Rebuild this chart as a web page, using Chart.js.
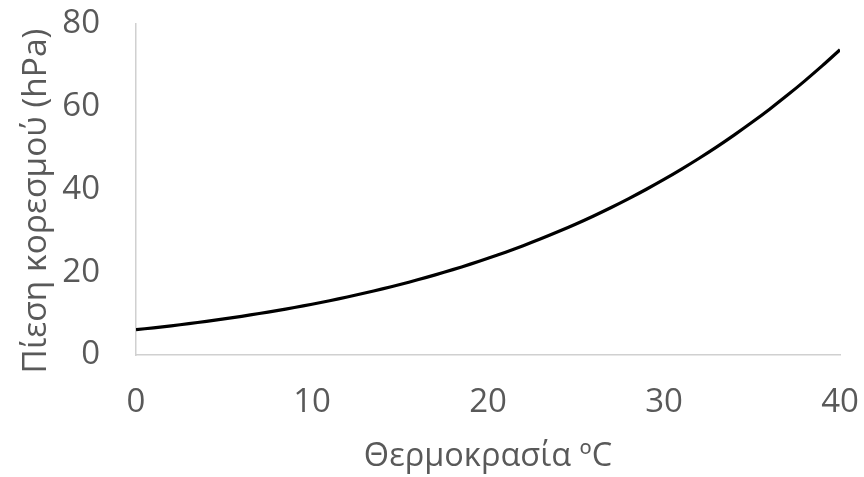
<!DOCTYPE html>
<html><head><meta charset="utf-8">
<script src="https://cdn.jsdelivr.net/npm/chart.js@4.4.1/dist/chart.umd.min.js"></script>
<style>html,body{margin:0;padding:0;background:#fff;}#c{display:block;}</style>
</head><body>
<canvas id="c" width="864" height="477"></canvas>
<script>
const temperatures = [0,1,2,3,4,5,6,7,8,9,10,11,12,13,14,15,16,17,18,19,20,21,22,23,24,25,26,27,28,29,30,31,32,33,34,35,36,37,38,39,40];
const pressures = [6.11,6.57,7.06,7.58,8.13,8.72,9.35,10.02,10.72,11.48,12.27,13.12,14.02,14.97,15.98,17.04,18.17,19.37,20.63,21.96,23.37,24.86,26.43,28.08,29.83,31.67,33.61,35.65,37.80,40.06,42.43,44.93,47.55,50.30,53.20,56.24,59.42,62.76,66.26,69.93,73.78];
const xTitle = 'Θερμοκρασία ºC';
const yTitle = 'Πίεση κορεσμού (hPa)';
const xRange = [0, 40, 10];
const yRange = [0, 80, 20];

const points = temperatures.map((t, i) => ({x: t, y: pressures[i]}));
const tickColor = '#595959';
const fontFam = "'Open Sans', sans-serif";

new Chart(document.getElementById('c'), {
  type: 'scatter',
  data: { datasets: [{
    data: points, showLine: true, borderColor: '#000', borderWidth: 3.2,
    pointRadius: 0, tension: 0.3, fill: false
  }]},
  options: {
    responsive: false, animation: false,
    layout: { padding: { top: 24, right: 24, left: 0, bottom: 0 } },
    plugins: { legend: { display: false }, tooltip: { enabled: false } },
    scales: {
      x: {
        type: 'linear', min: xRange[0], max: xRange[1],
        grid: { display: false, drawTicks: false },
        border: { display: true, color: '#d0d0d0', width: 1.5 },
        ticks: { stepSize: xRange[2], color: tickColor, font: { family: fontFam, size: 33 }, padding: 28, maxRotation: 0 },
        title: { display: true, text: xTitle, color: tickColor, font: { family: fontFam, size: 32.5, lineHeight: 1.2 }, padding: { top: 0, bottom: 1 } },
        afterFit: s => { s.height = 122; s.paddingLeft = 0; s.paddingRight = 0; }
      },
      y: {
        type: 'linear', min: yRange[0], max: yRange[1],
        grid: { display: false, drawTicks: false },
        border: { display: true, color: '#d0d0d0', width: 1.5 },
        ticks: { stepSize: yRange[2], color: tickColor, font: { family: fontFam, size: 33 }, padding: 36 },
        title: { display: true, text: yTitle + '\u00A0\u00A0\u2009', color: tickColor, font: { family: fontFam, size: 33.5, lineHeight: 1.2 }, padding: { top: 16, bottom: 0 } },
        afterFit: s => { s.width = 136; s.paddingTop = 0; s.paddingBottom = 0; }
      }
    }
  }
});
</script>
</body></html>
